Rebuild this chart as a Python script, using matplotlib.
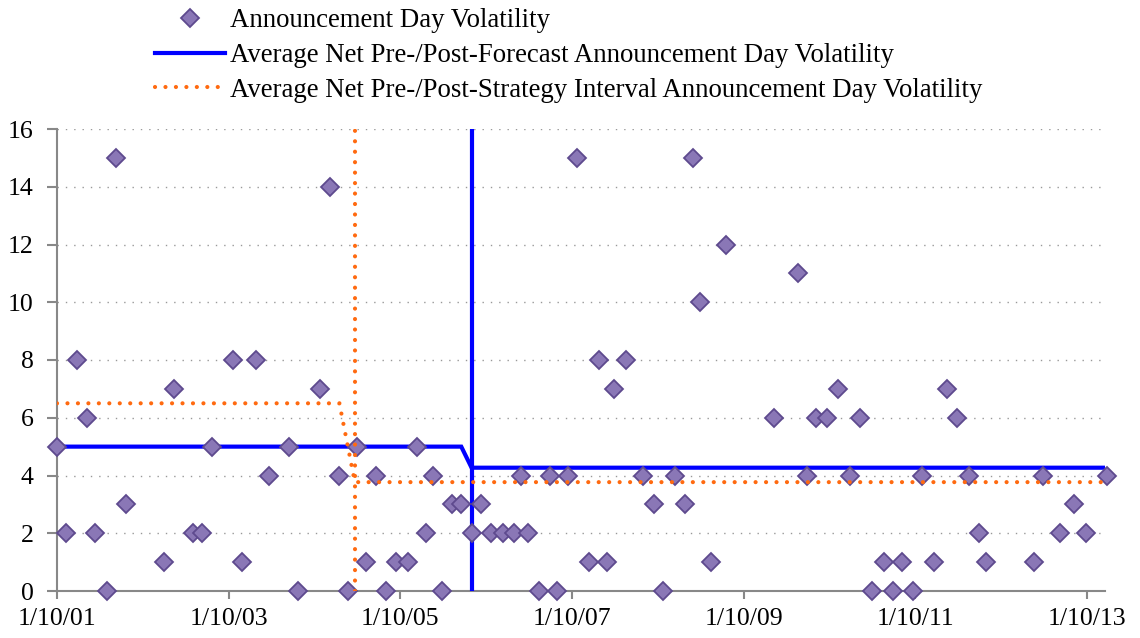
import matplotlib
matplotlib.use('Agg')
import matplotlib.pyplot as plt

# announcement dates as decimal years (2001.0 == 1/10/01) and day volatility
dates = [2001.00, 2001.11, 2001.23, 2001.35, 2001.44, 2001.58, 2001.69, 2001.80,
         2002.25, 2002.36, 2002.58, 2002.69, 2002.81, 2003.05, 2003.16, 2003.32,
         2003.47, 2003.70, 2003.81, 2004.06, 2004.18, 2004.29, 2004.39, 2004.49,
         2004.60, 2004.72, 2004.83, 2004.95, 2005.09, 2005.20, 2005.30, 2005.38,
         2005.49, 2005.60, 2005.71, 2005.83, 2005.94, 2006.06, 2006.20, 2006.32,
         2006.41, 2006.49, 2006.62, 2006.74, 2006.83, 2006.95, 2007.06, 2007.20,
         2007.31, 2007.41, 2007.49, 2007.63, 2007.83, 2007.95, 2008.06, 2008.20,
         2008.32, 2008.41, 2008.49, 2008.62, 2008.80, 2009.35, 2009.63, 2009.74,
         2009.84, 2009.97, 2010.10, 2010.24, 2010.36, 2010.49, 2010.63, 2010.74,
         2010.84, 2010.97, 2011.08, 2011.22, 2011.37, 2011.49, 2011.63, 2011.74,
         2011.82, 2012.38, 2012.49, 2012.69, 2012.85, 2012.99, 2013.23]
volatility = [5, 2, 8, 6, 2, 0, 15, 3,
              1, 7, 2, 2, 5, 8, 1, 8,
              4, 5, 0, 7, 14, 4, 0, 5,
              1, 4, 0, 1, 1, 5, 2, 4,
              0, 3, 3, 2, 3, 2, 2, 2,
              4, 2, 0, 4, 0, 4, 15, 1,
              8, 1, 7, 8, 4, 3, 0, 4,
              3, 15, 10, 1, 12, 6, 11, 4,
              6, 6, 7, 4, 6, 0, 1, 0,
              1, 0, 4, 1, 7, 6, 4, 2,
              1, 1, 4, 2, 3, 2, 4]

forecast_x = [2001.00, 2005.71, 2005.83, 2013.23]
forecast_avg = [5.0, 5.0, 4.27, 4.27]
forecast_break = 2005.83

strategy_x = [2001.00, 2004.29, 2004.47, 2013.23]
strategy_avg = [6.5, 6.5, 3.77, 3.77]
strategy_break = 2004.47

tick_years = [2001, 2003, 2005, 2007, 2009, 2011, 2013]
tick_labels = ['1/10/01', '1/10/03', '1/10/05', '1/10/07', '1/10/09', '1/10/11', '1/10/13']

plt.rcParams['font.family'] = ['Liberation Serif', 'DejaVu Serif']
plt.rcParams['font.size'] = 18.5

fig = plt.figure(figsize=(11.4, 6.38), dpi=100)
ax = fig.add_axes([57 / 1140, 1 - 591 / 638, (1105 - 57) / 1140, (591 - 129) / 638])

blue = '#0000FF'
orange = '#FF6A10'
grey = '#888888'

ax.plot(forecast_x, forecast_avg, color=blue, lw=3, zorder=3, solid_joinstyle='miter',
        label='Average Net Pre-/Post-Forecast Announcement Day Volatility')
ax.plot([forecast_break, forecast_break], [0, 16], color=blue, lw=3, zorder=3)

ax.plot(dates, volatility, ls='none', marker='D', ms=9.5, mfc='#8A77B6', mec='#5E4A8E',
        mew=1.3, zorder=4, clip_on=False, label='Announcement Day Volatility')

dots = (0, (0.01, 2.5))
ax.plot(strategy_x, strategy_avg, color=orange, lw=3, ls=dots, dash_capstyle='round',
        zorder=5, label='Average Net Pre-/Post-Strategy Interval Announcement Day Volatility')
ax.plot([strategy_break, strategy_break], [0, 16], color=orange, lw=3, ls=dots,
        dash_capstyle='round', zorder=5)

ax.set_xlim(2001.0, 2013.21)
ax.set_ylim(0, 16)
ax.set_yticks(range(0, 17, 2))
ax.set_xticks(tick_years)
ax.set_xticklabels(tick_labels)

ax.yaxis.grid(True, color='#999999', lw=1, ls=(0, (1, 5)))
ax.set_axisbelow(True)
for side in ['top', 'right']:
    ax.spines[side].set_visible(False)
for side in ['left', 'bottom']:
    ax.spines[side].set_color(grey)
    ax.spines[side].set_linewidth(1.5)
ax.tick_params(axis='y', direction='out', length=7, width=1.5, color=grey, pad=10)
ax.tick_params(axis='x', direction='out', length=6, width=1.5, color=grey, pad=6)

h, l = ax.get_legend_handles_labels()
order = [1, 0, 2]
fig.legend([h[i] for i in order], [l[i] for i in order], loc='upper left',
           bbox_to_anchor=(150 / 1140, 1 - 3 / 638), frameon=False, handlelength=2.6,
           handletextpad=0.2, labelspacing=0.36, borderaxespad=0.05, borderpad=0.15,
           fontsize=19.3)

fig.savefig('out.png', dpi=100)
